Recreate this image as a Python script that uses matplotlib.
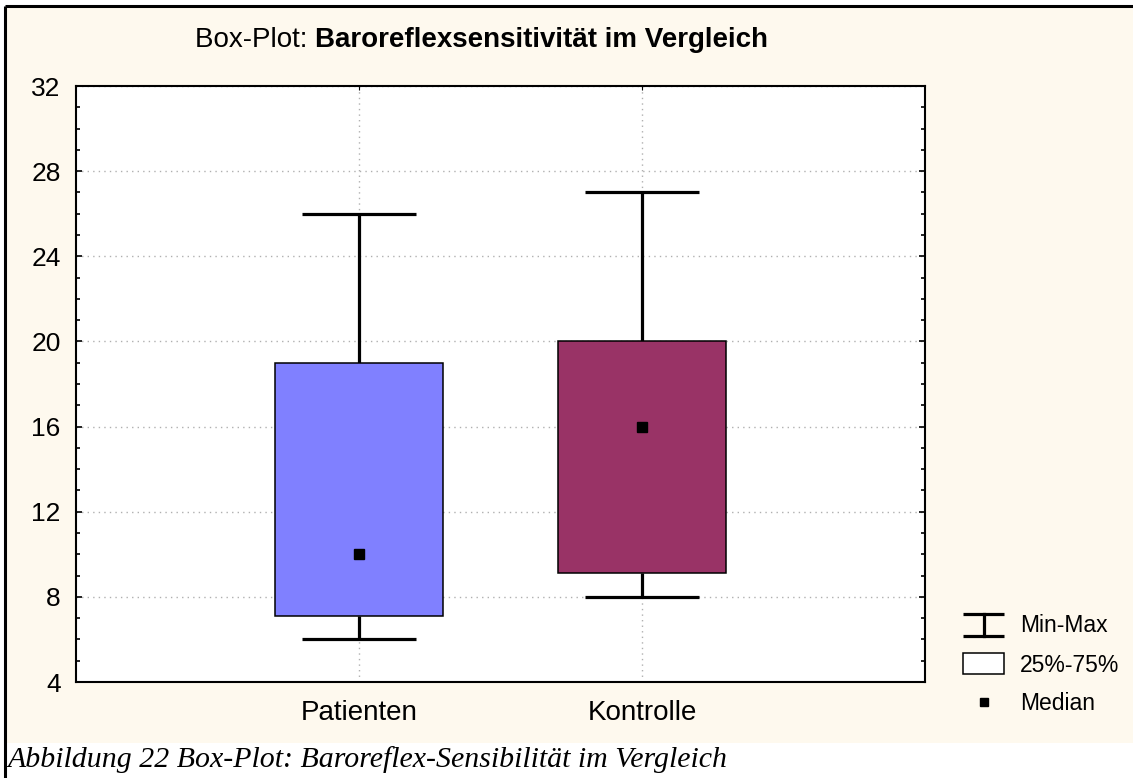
import matplotlib
matplotlib.use("Agg")
import matplotlib.pyplot as plt
from matplotlib import font_manager
from matplotlib.patches import Rectangle

# Data
groups = ["Patienten", "Kontrolle"]
mins = [6, 8]
q1 = [7.1, 9.1]
medians = [10, 16]
q3 = [19, 20]
maxs = [26, 27]
colors = ["#8080FF", "#993366"]

yticks = [4, 8, 12, 16, 20, 24, 28, 32]
legend_labels = ["Min-Max", "25%-75%", "Median"]

installed = {f.name for f in font_manager.fontManager.ttflist}
sans = "Liberation Sans Narrow" if "Liberation Sans Narrow" in installed else "Liberation Sans"
plt.rcParams["font.family"] = [sans, "DejaVu Sans"]

W, H = 1133, 778
fig = plt.figure(figsize=(W / 100, H / 100), dpi=100)
fig.patch.set_facecolor("white")

# background / annotation layer in pixel coordinates
bg = fig.add_axes([0, 0, 1, 1], zorder=-1)
bg.set_xlim(0, W)
bg.set_ylim(H, 0)
bg.axis("off")
bg.add_patch(Rectangle((6, 7), W - 6, 736, facecolor="#FEF9EE", edgecolor="none"))
bg.plot([5, W], [6, 6], color="black", lw=2.2, solid_capstyle="butt")
bg.plot([5, 5], [6, H], color="black", lw=2.2, solid_capstyle="butt")

# main axes
ax = fig.add_axes([76 / W, 1 - 682 / H, (925 - 76) / W, (682 - 86) / H])
x = [1, 2]
ax.set_xlim(0, 3)
ax.set_ylim(4, 32)

ax.vlines(x, q3, maxs, color="black", lw=2.3, zorder=2)
ax.vlines(x, mins, q1, color="black", lw=2.3, zorder=2)
ax.hlines(maxs, [v - 0.2 for v in x], [v + 0.2 for v in x], color="black", lw=2.3, zorder=2)
ax.hlines(mins, [v - 0.2 for v in x], [v + 0.2 for v in x], color="black", lw=2.3, zorder=2)
ax.bar(x, [b - a for a, b in zip(q1, q3)], bottom=q1, width=0.595,
       color=colors, edgecolor="black", linewidth=1.1, zorder=3)
ax.plot(x, medians, "s", color="black", markersize=7, zorder=4)

ax.set_yticks(yticks)
ax.set_yticks(range(4, 33), minor=True)
ax.set_xticks(x)
ax.set_xticklabels(groups)
ax.tick_params(axis="y", which="both", direction="in", right=True, left=True,
               labelsize=19, pad=11, width=1.2)
ax.tick_params(axis="y", which="major", length=4)
ax.tick_params(axis="y", which="minor", length=3)
ax.tick_params(axis="x", direction="in", length=3, top=True, bottom=False,
               labelsize=20, pad=13)
ax.grid(True, linestyle=(0, (1, 3)), color="#B0B0B0", linewidth=1)
ax.set_axisbelow(True)
for s in ax.spines.values():
    s.set_linewidth(1.5)
    s.set_color("black")

# title
t1 = bg.text(195, 40, "Box-Plot: ", fontsize=20, ha="left", va="center")
bg.annotate("Baroreflexsensitivität im Vergleich", xy=(1, 0), xycoords=t1,
            ha="left", va="bottom", fontsize=20, fontweight="bold")

# legend
lx0, lx1, lxm = 963, 1004, 983.5
bg.plot([lx0, lx1], [614, 614], color="black", lw=2.3, solid_capstyle="butt")
bg.plot([lx0, lx1], [636, 636], color="black", lw=2.3, solid_capstyle="butt")
bg.plot([lxm, lxm], [614, 636], color="black", lw=2.3)
bg.add_patch(Rectangle((lx0, 653), lx1 - lx0, 21, facecolor="white",
                       edgecolor="black", lw=1.1))
bg.plot([lxm], [702], "s", color="black", markersize=6)
for lab, yy in zip(legend_labels, [626, 665, 704]):
    bg.text(1020, yy, lab, fontsize=16.5, ha="left", va="center")

# caption
bg.text(8, 760, "Abbildung 22 Box-Plot: Baroreflex-Sensibilität im Vergleich",
        fontsize=21.5, style="italic", family=["Liberation Serif", "DejaVu Serif"],
        ha="left", va="center")

fig.savefig("out.png", dpi=100, facecolor=fig.get_facecolor())
